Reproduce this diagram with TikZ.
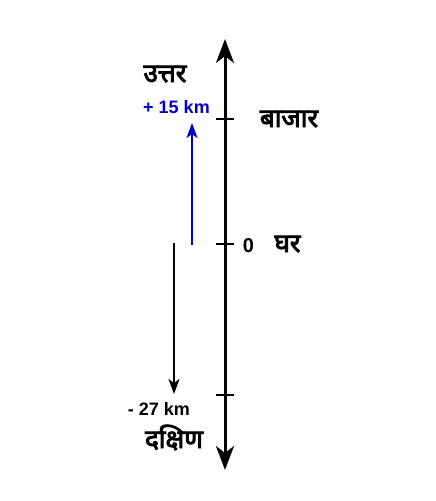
\documentclass[tikz,border=0pt]{standalone}
\usepackage{fontspec}
\setmainfont{Liberation Sans}
\newfontfamily\hindi[Script=Devanagari, FakeBold=3.5]{Noto Sans}
\usetikzlibrary{arrows.meta,positioning}
\definecolor{kmblue}{RGB}{0,0,205}

\begin{document}
\begin{tikzpicture}[
    x=1pt, y=-1pt,
    axis/.style={line width=3pt, {Stealth[length=24pt,width=18pt,inset=7pt]}-{Stealth[length=24pt,width=18pt,inset=7pt]}},
    tick/.style={line width=2pt},
    move/.style={line width=2pt, -{Stealth[length=15pt,width=11pt,inset=4pt]}},
    place/.style={font=\hindi\fontsize{26}{28}\selectfont, inner sep=0pt, anchor=base},
    dist/.style={font=\bfseries\fontsize{18}{20}\selectfont, inner sep=0pt, anchor=base}
]
    \useasboundingbox (0,0) rectangle (436,501);

    % Axis
    \coordinate (top) at (225,39);
    \coordinate (bottom) at (225,470);
    \draw[axis] (bottom) -- (top);

    % Ticks
    \coordinate (market) at (225,119);
    \coordinate (home) at (225,244);
    \coordinate (south) at (225,395);
    \foreach \t in {market,home,south}
        \draw[tick] ([xshift=-9pt]\t) -- ([xshift=9pt]\t);

    % Labels
    \node[place] (north) at (165,82) {उत्तर};
    \node[place] (bazaar) at (289,127) {बाजार};
    \node[dist, font=\bfseries\fontsize{20}{22}\selectfont] (zero) at (248.5,252) {0};
    \node[place] (ghar) at (287.5,252) {घर};
    \node[place] (dakshin) at (174,448) {दक्षिण};
    \node[dist, text=kmblue] (plus) at (176.5,113) {+ 15 km};
    \node[dist] (minus) at (159,415) {- 27 km};

    % Movements
    \coordinate (bstart) at (192,245);
    \coordinate (bend) at (192,123);
    \coordinate (kstart) at (174,243);
    \coordinate (kend) at (174,394);
    \draw[move, kmblue, line width=2.6pt] (bstart) -- (bend);
    \draw[move] (kstart) -- (kend);
\end{tikzpicture}
\end{document}
